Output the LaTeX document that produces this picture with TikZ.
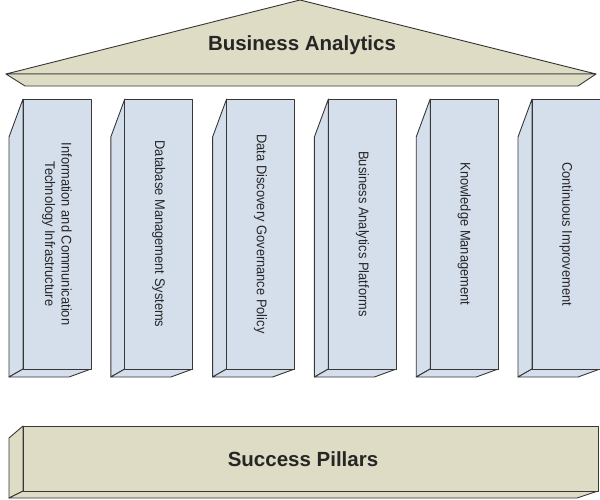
\documentclass[tikz,border=0pt]{standalone}
\usepackage{fontspec}
\setmainfont{Liberation Sans}
\newfontfamily\pillarfont[FakeStretch=0.92]{Liberation Sans}
\definecolor{pillarblue}{RGB}{213,223,236}
\definecolor{rooftan}{RGB}{222,220,196}
\definecolor{edgegray}{RGB}{55,55,55}
\begin{document}
\begin{tikzpicture}[
	x=1pt, y=-1pt,
	line join=round, line cap=round,
	face/.style={draw=edgegray, line width=0.9pt},
	roof/.style={face, fill=rooftan},
	column/.style={face, fill=pillarblue},
	pillartext/.style={rotate=-90, align=center, text=black!85, font=\pillarfont\fontsize{14}{16.5}\selectfont},
	bigtext/.style={text=black!85, font=\fontsize{20.5}{24}\selectfont\bfseries}
	]
	\useasboundingbox (0,0) rectangle (600,499);
	\draw[roof] (6,74) -- (300,0) -- (596,74) -- cycle;
	\draw[roof] (6,74) -- (596,74) -- (578,86) -- (25,86) -- cycle;
	\node[bigtext] (roofname) at (302,45) {Business Analytics};
	\foreach \i/\txt in {0/{Information and Communication\\Technology Infrastructure}, 1/{Database Management Systems}, 2/{Data Discovery Governance Policy}, 3/{Business Analytics Platforms}, 4/{Knowledge Management}, 5/{Continuous Improvement}} {
		\pgfmathsetmacro{\px}{23+101.8*\i}
		\draw[column] ({\px-14},137) -- (\px,99) -- (\px,369) -- ({\px-14},377) -- cycle;
		\draw[column] ({\px-14},377) -- (\px,369) -- ({\px+68},369) -- ({\px+46},377) -- cycle;
		\draw[column] (\px,99) rectangle ({\px+68},369);
		\node[pillartext] (pillar\i) at ({\px+34},234) {\txt};
	}
	\draw[roof] (9,438) -- (23,426) -- (23,491) -- (9,498) -- cycle;
	\draw[roof] (9,498) -- (23,491) -- (598,491) -- (577,498) -- cycle;
	\draw[roof] (23,426) rectangle (598,491);
	\node[bigtext] (basename) at (303,459) {Success Pillars};
\end{tikzpicture}
\end{document}
